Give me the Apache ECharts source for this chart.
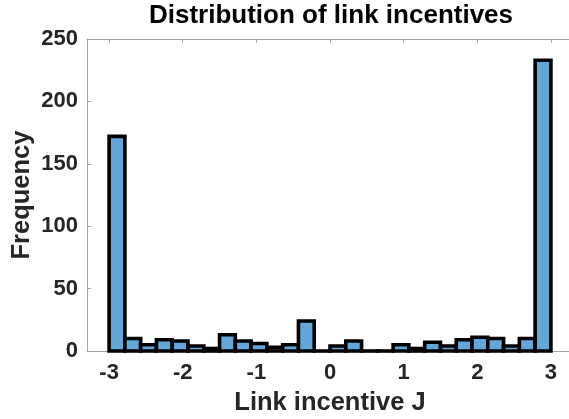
<!DOCTYPE html>
<html>
<head>
<meta charset="utf-8">
<script src="https://cdn.jsdelivr.net/npm/echarts@6/dist/echarts.min.js"></script>
<style>
html,body{margin:0;padding:0;background:#ffffff;}
#chart{width:569px;height:419px;}
</style>
</head>
<body>
<div id="chart"></div>
<script>
// ---- data ----
const binLow = -3;
const binHigh = 3;
const counts = [172, 10, 5, 9, 8, 4, 2, 13, 8, 6, 3, 5, 24, 0, 4, 8, 0, 0, 5, 2, 7, 4, 9, 11, 10, 4, 10, 233];
const xTicks = [-3, -2, -1, 0, 1, 2, 3];
const yTicks = [0, 50, 100, 150, 200, 250];
const chartTitle = 'Distribution of link incentives';
const xName = 'Link incentive J';
const yName = 'Frequency';

// ---- build histogram items (bin edges + count) ----
const binWidth = (binHigh - binLow) / counts.length;
const histData = counts.map((c, i) => [binLow + i * binWidth, binLow + (i + 1) * binWidth, c]);

const FONT = "'Liberation Sans', Arial, Helvetica, sans-serif";
const AXIS_GREY = '#a3a3a3';
const TEXT_DARK = '#262626';
const EDGE_W = 3.6;

const chart = echarts.init(document.getElementById('chart'), null, {renderer: 'canvas'});

const xCommon = {
  type: 'value',
  min: -3.3,
  max: 3.3,
  splitLine: {show: false},
  axisLine: {show: true, onZero: false, lineStyle: {color: AXIS_GREY, width: 1}},
  axisTick: {show: true, inside: true, length: 4, customValues: xTicks, lineStyle: {color: AXIS_GREY, width: 1}}
};

chart.setOption({
  animation: false,
  backgroundColor: '#ffffff',
  title: {
    text: chartTitle,
    left: 331,
    top: 3,
    padding: 0,
    textAlign: 'center',
    textStyle: {fontFamily: FONT, fontWeight: 'bold', fontSize: 26, color: '#000000'}
  },
  grid: {left: 87, top: 39, width: 486, height: 312, containLabel: false, outerBoundsMode: 'none'},
  xAxis: [
    Object.assign({}, xCommon, {
      position: 'bottom',
      name: xName,
      nameLocation: 'middle',
      nameGap: 39,
      nameMoveOverlap: false,
      nameTextStyle: {fontFamily: FONT, fontWeight: 'bold', fontSize: 25.5, color: TEXT_DARK},
      axisLabel: {show: true, customValues: xTicks, margin: 11, fontFamily: FONT, fontWeight: 'bold', fontSize: 22, color: TEXT_DARK,
        formatter: v => String(v)}
    }),
    Object.assign({}, xCommon, {
      position: 'top',
      axisLabel: {show: false}
    })
  ],
  yAxis: [{
    type: 'value',
    min: 0,
    max: 250,
    interval: 50,
    splitLine: {show: false},
    name: yName,
    nameLocation: 'middle',
    nameGap: 52,
    nameMoveOverlap: false,
    nameRotate: 90,
    nameTextStyle: {fontFamily: FONT, fontWeight: 'bold', fontSize: 25.5, color: TEXT_DARK},
    axisLine: {show: true, onZero: false, lineStyle: {color: AXIS_GREY, width: 1}},
    axisTick: {show: true, inside: true, length: 4, lineStyle: {color: AXIS_GREY, width: 1}},
    axisLabel: {show: true, margin: 9, fontFamily: FONT, fontWeight: 'bold', fontSize: 22, color: TEXT_DARK}
  }],
  series: [{
    type: 'custom',
    xAxisIndex: 0,
    yAxisIndex: 0,
    data: histData,
    encode: {x: [0, 1], y: 2},
    renderItem: function (params, api) {
      const x0 = api.value(0);
      const x1 = api.value(1);
      const c = api.value(2);
      const p0 = api.coord([x0, 0]);
      const p1 = api.coord([x1, c]);
      if (c === 0) {
        return {
          type: 'line',
          shape: {x1: p0[0] - EDGE_W / 2, y1: p0[1], x2: p1[0] + EDGE_W / 2, y2: p0[1]},
          style: {stroke: '#000000', lineWidth: EDGE_W}
        };
      }
      return {
        type: 'rect',
        shape: {x: p0[0], y: p1[1], width: p1[0] - p0[0], height: p0[1] - p1[1]},
        style: {fill: '#63a7d8', stroke: '#000000', lineWidth: EDGE_W}
      };
    }
  }]
});
</script>
</body>
</html>
